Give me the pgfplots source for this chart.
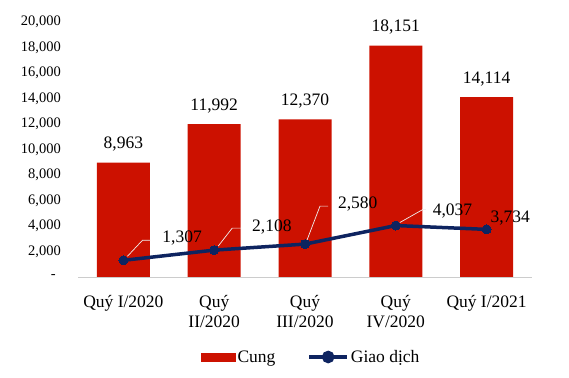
\documentclass[border=0pt]{standalone}
\usepackage{pgfplots}
\pgfplotsset{compat=1.18}
\usepackage{fontspec}
\setmainfont{Liberation Serif}
\definecolor{barred}{RGB}{204,17,0}
\definecolor{navy}{RGB}{14,36,96}
\begin{document}
\begin{tikzpicture}[x=1pt,y=1pt]
\useasboundingbox (0,0) rectangle (569,377);
\begin{axis}[
  at={(78pt,100pt)}, anchor=south west,
  scale only axis, width=454pt, height=255pt,
  xmin=-0.5, xmax=4.5, ymin=0, ymax=20000,
  axis y line=none,
  axis x line*=bottom,
  x axis line style={draw=gray!40, line width=0.8pt},
  xtick={0,1,2,3,4},
  xticklabels={Quý I/2020,{Quý\\II/2020},{Quý\\III/2020},{Quý\\IV/2020},Quý I/2021},
  xticklabel style={align=center, font=\fontsize{17.5}{20}\selectfont, anchor=north, yshift=-15pt},
  major tick length=0pt,
  /pgf/number format/assume math mode=true,
  /pgf/number format/1000 sep={,},
  clip=false,
  legend style={at={(0.5,0)}, anchor=center, xshift=6pt, yshift=-80pt, draw=none, fill=none,
    font=\fontsize{17.5}{20}\selectfont, legend columns=2, /tikz/every even column/.append style={column sep=30pt}},
]
% y tick labels
\foreach \lab/\v in {{2,000}/2000,{4,000}/4000,{6,000}/6000,{8,000}/8000,{10,000}/10000,{12,000}/12000,{14,000}/14000,{16,000}/16000,{18,000}/18000,{20,000}/20000}{
  \edef\temp{\noexpand\node[anchor=east, inner sep=0pt, font=\noexpand\fontsize{14.5}{16}\noexpand\selectfont, xshift=-17pt] at (axis cs:-0.5,\v) {\lab};}
  \temp
}
\node[anchor=east, inner sep=0pt, font=\fontsize{14.5}{16}\selectfont, xshift=-22pt] at (axis cs:-0.5,0) {-};
\addplot[ybar, bar width=53pt, bar shift=0pt, fill=barred, draw=none,
  nodes near coords, point meta=y,
  every node near coord/.append style={font=\fontsize{17.5}{20}\selectfont, text=black, anchor=south, inner sep=0pt, yshift=11pt},
  legend image code/.code={\fill[barred] (0pt,-4.5pt) rectangle (35pt,4.5pt);}]
  table[x=x,y=y]{
x y
0 8963
1 11992
2 12370
3 18151
4 14114
};
\addlegendentry{Cung}
\addplot[navy, line width=3.5pt, mark=*, mark size=4.5pt, mark options={fill=navy, line width=0pt},
  nodes near coords, point meta=explicit,
  visualization depends on={\thisrow{dx}\as\dx},
  visualization depends on={\thisrow{dy}\as\dy},
  every node near coord/.append style={font=\fontsize{17.5}{20}\selectfont, text=black, anchor=west, inner sep=0pt, xshift=\dx pt, yshift=\dy pt},
  legend image code/.code={\draw[navy, line width=3.5pt] (0pt,0pt) -- (38pt,0pt); \fill[navy] (19pt,0pt) circle (4.5pt);}]
  table[x=x,y=y,meta=y]{
x y dx dy
0 1307 39 22
1 2108 38 23
2 2580 33 40
3 4037 37 15
4 3734 4 11
};
\addlegendentry{Giao dịch}
% leader lines
\draw[gray!12, line width=0.7pt] (axis cs:0,1307) ++(4pt,4pt) -- ++(15pt,16pt) -- ++(8pt,0pt);
\draw[gray!12, line width=0.7pt] (axis cs:1,2108) ++(4pt,4pt) -- ++(14pt,18pt) -- ++(9pt,0pt);
\draw[gray!12, line width=0.7pt] (axis cs:2,2580) ++(2pt,4pt) -- ++(13pt,34pt) -- ++(8pt,0pt);
\draw[gray!12, line width=0.7pt] (axis cs:3,4037) ++(4pt,3pt) -- ++(23pt,13pt) -- ++(3pt,0pt);
\end{axis}
\end{tikzpicture}
\end{document}
